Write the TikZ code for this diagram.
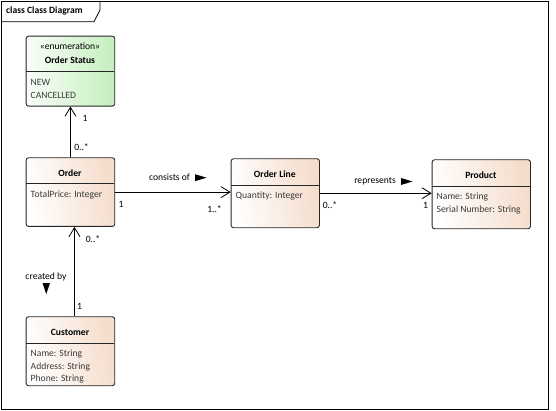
\documentclass[tikz,border=0pt]{standalone}
\usepackage{fontspec}
\setmainfont{Carlito}
\usetikzlibrary{arrows.meta,calc}
\definecolor{peach}{HTML}{F5DCCB}
\definecolor{mint}{HTML}{C4EFBE}
\definecolor{attr}{HTML}{3A3A3A}
\tikzset{
  classbox/.style={draw=black!85, line width=0.9pt, rounded corners=2.5pt, anchor=north west,
    inner sep=0pt, left color=white, right color=peach, shading angle=100},
  enumbox/.style={classbox, left color=white!90!mint, right color=mint},
  cname/.style={font=\fontsize{9.6}{11}\selectfont\bfseries, inner sep=0pt},
  ster/.style={font=\fontsize{9.6}{11}\selectfont, inner sep=0pt},
  attrtxt/.style={font=\fontsize{9.6}{11}\selectfont, text=attr, anchor=west, inner sep=0pt},
  lbl/.style={font=\fontsize{9.6}{11}\selectfont, inner sep=0pt},
  assoc/.style={line width=0.8pt, -{Straight Barb[length=9pt,width=11pt,line width=0.8pt]}},
  divline/.style={line width=0.9pt, draw=black!85},
  tri/.style={fill=black, draw=none}
}
\begin{document}
\begin{tikzpicture}[x=1pt,y=-1pt]
\useasboundingbox (0,0) rectangle (556,411);
% frame
\draw[line width=0.8pt] (1,1) rectangle (548,409);
\draw[line width=0.8pt] (1,21.7) -- (94,21.7) -- (100,10) -- (100,1);
\node[font=\fontsize{9.6}{11}\selectfont\bfseries, anchor=west, inner sep=0pt] (title) at (6,11) {class Class Diagram};

% Order Status
\node[enumbox, minimum width=88.6pt, minimum height=70pt] (status) at (25.7,35.7) {};
\draw[divline] (25.7,71.7) -- (114.3,71.7);
\node[ster] (statusster) at (70,46.7) {«enumeration»};
\node[cname] (statusname) at (70,60) {Order Status};
\node[attrtxt] (snew) at (30.5,82.7) {NEW};
\node[attrtxt] (scanc) at (30.5,95.3) {CANCELLED};

% Order
\node[classbox, minimum width=88.6pt, minimum height=68.7pt] (order) at (25.7,157.3) {};
\draw[divline] (25.7,183.7) -- (114.3,183.7);
\node[cname] (ordername) at (70,173) {Order};
\node[attrtxt] (oattr) at (30.5,195) {TotalPrice: Integer};

% Order Line
\node[classbox, minimum width=88.3pt, minimum height=69pt] (line) at (230.7,158.3) {};
\draw[divline] (230.7,185) -- (319,185);
\node[cname] (linename) at (274.85,174.3) {Order Line};
\node[attrtxt] (lattr) at (235.5,195.7) {Quantity: Integer};

% Product
\node[classbox, minimum width=98.3pt, minimum height=69pt] (product) at (431.7,159.3) {};
\draw[divline] (431.7,186) -- (530,186);
\node[cname] (productname) at (480.85,175) {Product};
\node[attrtxt] (pa1) at (436.5,196.7) {Name: String};
\node[attrtxt] (pa2) at (436.5,210) {Serial Number: String};

% Customer
\node[classbox, minimum width=88.6pt, minimum height=69pt] (customer) at (25.7,316.3) {};
\draw[divline] (25.7,343.3) -- (114.3,343.3);
\node[cname] (custname) at (70,332) {Customer};
\node[attrtxt] (ca1) at (30.5,354) {Name: String};
\node[attrtxt] (ca2) at (30.5,366.7) {Address: String};
\node[attrtxt] (ca3) at (30.5,379.3) {Phone: String};

% connectors
\draw[assoc] (order.north) -- (status.south);
\draw[assoc] ([xshift=4pt]customer.north) -- ([xshift=4pt]order.south);
\draw[assoc] (order.east) -- (order.east -| line.west);
\draw[assoc] (line.east) -- (line.east -| product.west);

% labels
\node[lbl] (l1) at (85,118) {1};
\node[lbl] (l2) at (81.5,147) {0..*};
\node[lbl] (l3) at (121,204.3) {1};
\node[lbl] (l4) at (214.5,209) {1..*};
\node[lbl] (l5) at (169.5,177.7) {consists of};
\fill[tri] (195,174.2) -- (206.5,177.7) -- (195,181.2) -- cycle;
\node[lbl] (l6) at (375,181.5) {represents};
\fill[tri] (401,178) -- (412.5,181.5) -- (401,185) -- cycle;
\node[lbl] (l7) at (330,205) {0..*};
\node[lbl] (l8) at (425.5,205) {1};
\node[lbl] (l9) at (93,239) {0..*};
\node[lbl] (l10) at (46,276.7) {created by};
\fill[tri] (42.5,283) -- (50,283) -- (46.25,294) -- cycle;
\node[lbl] (l11) at (79.5,306) {1};
\end{tikzpicture}
\end{document}
